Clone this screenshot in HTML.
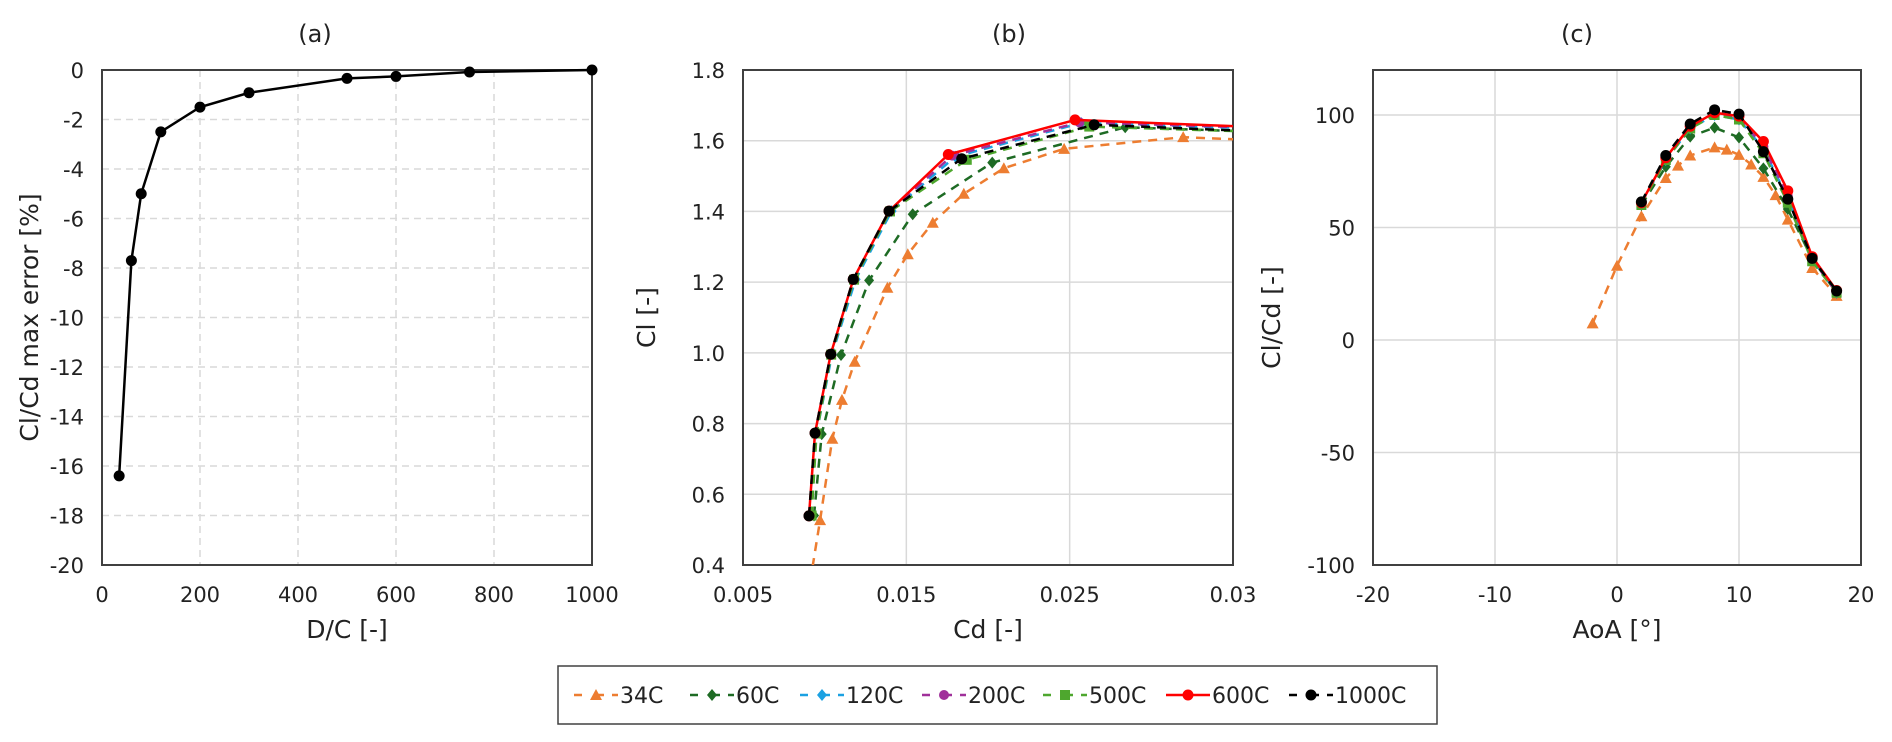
<!DOCTYPE html>
<html><head><meta charset="utf-8"><style>
html,body{margin:0;padding:0;background:#fff;}
svg{display:block;font-family:"DejaVu Sans","Liberation Sans",sans-serif;}
</style></head><body>
<svg id="chart" width="1892" height="742" viewBox="0 0 1892 742" xmlns="http://www.w3.org/2000/svg">
<defs>
<clipPath id="clipB"><rect x="743" y="70" width="490" height="495"/></clipPath>
<clipPath id="clipC"><rect x="1373" y="70" width="488" height="495"/></clipPath>
</defs>
<g id="gA"></g>
<g id="gB"></g>
<g id="gC"></g>
<g id="legend"></g>
</svg>
<script>
// Panel (a) data
const aDC = [35, 60, 80, 120, 200, 300, 500, 600, 750, 1000];
const aErr = [-16.4, -7.7, -5.0, -2.5, -1.5, -0.92, -0.34, -0.26, -0.08, 0];
const aXTicks = [0, 200, 400, 600, 800, 1000];
const aYTicks = [0, -2, -4, -6, -8, -10, -12, -14, -16, -18, -20];

// Panel (b) data: Cd / Cl per series
const seriesNames = ["34C", "60C", "120C", "200C", "500C", "600C", "1000C"];
const bCd34 = [0.0091, 0.00972, 0.01047, 0.01106, 0.01184, 0.01384, 0.01509, 0.01662, 0.01852, 0.02097, 0.02466, 0.03195, 0.04];
const bCl34 = [0.35, 0.527, 0.757, 0.867, 0.975, 1.184, 1.279, 1.368, 1.45, 1.522, 1.577, 1.61, 1.595];
const bCd60 = [0.00935, 0.00982, 0.0110, 0.01272, 0.01539, 0.02026, 0.0284, 0.04];
const bCl60 = [0.54, 0.770, 0.994, 1.205, 1.392, 1.538, 1.638, 1.62];
const bCd120 = [0.0091, 0.0095, 0.01045, 0.0119, 0.0141, 0.0180, 0.0257, 0.04];
const bCl120 = [0.54, 0.772, 0.996, 1.208, 1.401, 1.555, 1.650, 1.63];
const bCd200 = [0.00905, 0.00945, 0.0104, 0.01180, 0.0140, 0.0178, 0.0256, 0.04];
const bCl200 = [0.54, 0.772, 0.996, 1.208, 1.401, 1.558, 1.652, 1.632];
const bCd500 = [0.0092, 0.0095, 0.0104, 0.0118, 0.0140, 0.0187, 0.0262, 0.04];
const bCl500 = [0.54, 0.772, 0.995, 1.207, 1.400, 1.546, 1.640, 1.62];
const bCd600 = [0.00904, 0.00941, 0.01037, 0.01175, 0.01394, 0.01757, 0.02533, 0.04];
const bCl600 = [0.539, 0.773, 0.996, 1.208, 1.401, 1.561, 1.659, 1.632];
const bCd1000 = [0.00904, 0.00941, 0.01037, 0.01175, 0.01394, 0.01839, 0.0265, 0.04];
const bCl1000 = [0.539, 0.773, 0.996, 1.208, 1.401, 1.549, 1.645, 1.62];
const bXTicks = [0.005, 0.015, 0.025, 0.035];
const bXTickLabels = ["0.005", "0.015", "0.025", "0.03"];
const bYTicks = [0.4, 0.6, 0.8, 1.0, 1.2, 1.4, 1.6, 1.8];

// Panel (c) data: AoA / ClCd
const cAoA34 = [-2, 0, 2, 4, 5, 6, 8, 9, 10, 11, 12, 13, 14, 16, 18];
const cR34 = [7.4, 33, 55, 72, 77.5, 82, 85.6, 84.6, 82.3, 78, 72.5, 64.4, 53.5, 32, 19.6];
const cAoA = [2, 4, 6, 8, 10, 12, 14, 16, 18];
const cR60 = [60, 77, 90.4, 94.4, 90, 76.3, 58.2, 36, 21];
const cR120 = [61, 80, 94, 100, 98, 85, 63, 36, 21];
const cR200 = [61, 81, 95, 101, 99, 86, 64, 36, 21];
const cR500 = [60, 80, 94, 100, 98, 83, 61, 35, 21];
const cR600 = [61, 81, 95, 101, 99.5, 88.2, 66.3, 37, 22];
const cR1000 = [61.4, 82, 96, 102.3, 100.4, 83.7, 62.6, 36.3, 21.8];
const cXTicks = [-20, -10, 0, 10, 20];
const cYTicks = [-100, -50, 0, 50, 100];

const NS = "http://www.w3.org/2000/svg";
function mk(parent, tag, attrs, text) {
  const e = document.createElementNS(NS, tag);
  for (const k in attrs) e.setAttribute(k, attrs[k]);
  if (text !== undefined) e.textContent = text;
  parent.appendChild(e);
  return e;
}
function scale(d0, d1, r0, r1) { return v => r0 + (v - d0) / (d1 - d0) * (r1 - r0); }

const styles = {
  "34C": {color: "#ED7D31", marker: "tri", dash: "9,7", w: 2.5, r: 5},
  "60C": {color: "#1E6B24", marker: "diamond", dash: "9,7", w: 2.5, r: 5},
  "120C": {color: "#1BA1E2", marker: "diamond", dash: "9,7", w: 2.5, r: 5},
  "200C": {color: "#A0309A", marker: "circle", dash: "9,7", w: 2.5, r: 5},
  "500C": {color: "#4EA72E", marker: "square", dash: "9,7", w: 2.5, r: 5},
  "600C": {color: "#FF0000", marker: "circle", dash: "", w: 2.5, r: 5.5},
  "1000C": {color: "#000000", marker: "circle", dash: "9,7", w: 2.5, r: 5.5}
};
function marker(g, type, x, y, r, color) {
  let m;
  if (type === "circle") m = mk(g, "circle", {cx: x, cy: y, r: r, fill: color});
  else if (type === "square") m = mk(g, "rect", {x: x - r, y: y - r, width: 2 * r, height: 2 * r, fill: color});
  else if (type === "diamond") m = mk(g, "polygon", {points: `${x},${y - r - 1} ${x + r},${y} ${x},${y + r + 1} ${x - r},${y}`, fill: color});
  else m = mk(g, "polygon", {points: `${x},${y - r - 1} ${x + r + 1},${y + r} ${x - r - 1},${y + r}`, fill: color});
  
  
  return m;
}

function axes(g, box, xs, ys, xTicks, xLabels, yTicks, yLabels, dashedGrid, title, titleX, xTitle, yTitle) {
  const gridG = mk(g, "g", {});
  
  
  xTicks.forEach(t => {
    const x = xs(t);
    if (x > box.x0 + 1 && x < box.x1 - 1) mk(gridG, "line", {x1: x, x2: x, y1: box.y0, y2: box.y1, stroke: "#d9d9d9", "stroke-width": 1.5, "stroke-dasharray": dashedGrid ? "7,5" : ""});
  });
  yTicks.forEach(t => {
    const y = ys(t);
    if (y > box.y0 + 1 && y < box.y1 - 1) mk(gridG, "line", {x1: box.x0, x2: box.x1, y1: y, y2: y, stroke: "#d9d9d9", "stroke-width": 1.5, "stroke-dasharray": dashedGrid ? "7,5" : ""});
  });
  const frame = mk(g, "rect", {x: box.x0, y: box.y0, width: box.x1 - box.x0, height: box.y1 - box.y0, fill: "none", stroke: "#404040", "stroke-width": 2});
  
  
  xTicks.forEach((t, i) => {
    const tx = mk(g, "text", {x: xs(t), y: box.y1 + 37, "font-size": 21, "text-anchor": "middle", fill: "#222"}, xLabels[i]);
    
    
  });
  yTicks.forEach((t, i) => {
    const ty = mk(g, "text", {x: box.x0 - 18, y: ys(t) + 8, "font-size": 21, "text-anchor": "end", fill: "#222"}, yLabels[i]);
    
    
  });
  const tt = mk(g, "text", {x: titleX, y: 42, "font-size": 24, "text-anchor": "middle", fill: "#222"}, title);
  
  
  const xt = mk(g, "text", {x: (box.x0 + box.x1) / 2, y: 638, "font-size": 25, "text-anchor": "middle", fill: "#222"}, xTitle);
  
  
  const yx = yTitle.x, yy = (box.y0 + box.y1) / 2;
  const yt = mk(g, "text", {x: yx, y: yy, "font-size": 25, "text-anchor": "middle", fill: "#222", transform: `rotate(-90 ${yx} ${yy})`}, yTitle.text);
  
  
}

function series(g, name, xsArr, ysArr, xs, ys, clip) {
  const st = styles[name];
  const sg = mk(g, "g", clip ? {"clip-path": `url(#${clip})`} : {});
  
  
  const pts = xsArr.map((v, i) => `${xs(v).toFixed(1)},${ys(ysArr[i]).toFixed(1)}`).join(" ");
  const pl = mk(sg, "polyline", {points: pts, fill: "none", stroke: st.color, "stroke-width": st.w, "stroke-dasharray": st.dash, "stroke-linejoin": "round"});
  
  
  xsArr.forEach((v, i) => marker(sg, st.marker, xs(v), ys(ysArr[i]), st.r, st.color));
}

// Panel A
(function () {
  const g = document.getElementById("gA");
  const box = {x0: 102, x1: 592, y0: 70, y1: 565};
  const xs = scale(0, 1000, box.x0, box.x1), ys = scale(0, -20, box.y0, box.y1);
  axes(g, box, xs, ys, aXTicks, aXTicks.map(String), aYTicks, aYTicks.map(String), true, "(a)", 315, "D/C [-]", {x: 38, text: "Cl/Cd max error [%]"});
  const sg = mk(g, "g", {});
  
  
  const pl = mk(sg, "polyline", {points: aDC.map((v, i) => `${xs(v)},${ys(aErr[i])}`).join(" "), fill: "none", stroke: "#000", "stroke-width": 2.5});
  
  
  aDC.forEach((v, i) => marker(sg, "circle", xs(v), ys(aErr[i]), 5.5, "#000"));
})();

// Panel B
(function () {
  const g = document.getElementById("gB");
  const box = {x0: 743, x1: 1233, y0: 70, y1: 565};
  const xs = scale(0.005, 0.035, box.x0, box.x1), ys = scale(0.4, 1.8, box.y1, box.y0);
  axes(g, box, xs, ys, bXTicks, bXTickLabels, bYTicks, bYTicks.map(v => v.toFixed(1)), false, "(b)", 1009, "Cd [-]", {x: 655, text: "Cl [-]"});
  series(g, "34C", bCd34, bCl34, xs, ys, "clipB");
  series(g, "60C", bCd60, bCl60, xs, ys, "clipB");
  series(g, "120C", bCd120, bCl120, xs, ys, "clipB");
  series(g, "200C", bCd200, bCl200, xs, ys, "clipB");
  series(g, "500C", bCd500, bCl500, xs, ys, "clipB");
  series(g, "600C", bCd600, bCl600, xs, ys, "clipB");
  series(g, "1000C", bCd1000, bCl1000, xs, ys, "clipB");
})();

// Panel C
(function () {
  const g = document.getElementById("gC");
  const box = {x0: 1373, x1: 1861, y0: 70, y1: 565};
  const xs = scale(-20, 20, box.x0, box.x1), ys = scale(-100, 120, box.y1, box.y0);
  axes(g, box, xs, ys, cXTicks, cXTicks.map(String), cYTicks, cYTicks.map(String), false, "(c)", 1577, "AoA [°]", {x: 1280, text: "Cl/Cd [-]"});
  series(g, "34C", cAoA34, cR34, xs, ys, "clipC");
  series(g, "60C", cAoA, cR60, xs, ys, "clipC");
  series(g, "120C", cAoA, cR120, xs, ys, "clipC");
  series(g, "200C", cAoA, cR200, xs, ys, "clipC");
  series(g, "500C", cAoA, cR500, xs, ys, "clipC");
  series(g, "600C", cAoA, cR600, xs, ys, "clipC");
  series(g, "1000C", cAoA, cR1000, xs, ys, "clipC");
})();

// Legend
(function () {
  const g = document.getElementById("legend");
  const box = mk(g, "rect", {x: 558, y: 666, width: 879, height: 58, fill: "#fff", stroke: "#404040", "stroke-width": 1.5});
  
  
  const mx = [596, 712, 822, 944, 1065, 1188, 1311];
  const cy = 695;
  seriesNames.forEach((n, i) => {
    const st = styles[n];
    const eg = mk(g, "g", {});
    
    
    mk(eg, "line", {x1: mx[i] - 22, x2: mx[i] + 22, y1: cy, y2: cy, stroke: st.color, "stroke-width": 2.5, "stroke-dasharray": st.dash ? "8,14,8" : ""});
    marker(eg, st.marker, mx[i], cy, st.r, st.color);
    mk(eg, "text", {x: mx[i] + 24, y: cy + 8, "font-size": 22, fill: "#222"}, "-" === "" ? n : n);
  });
})();
</script>
</body></html>
